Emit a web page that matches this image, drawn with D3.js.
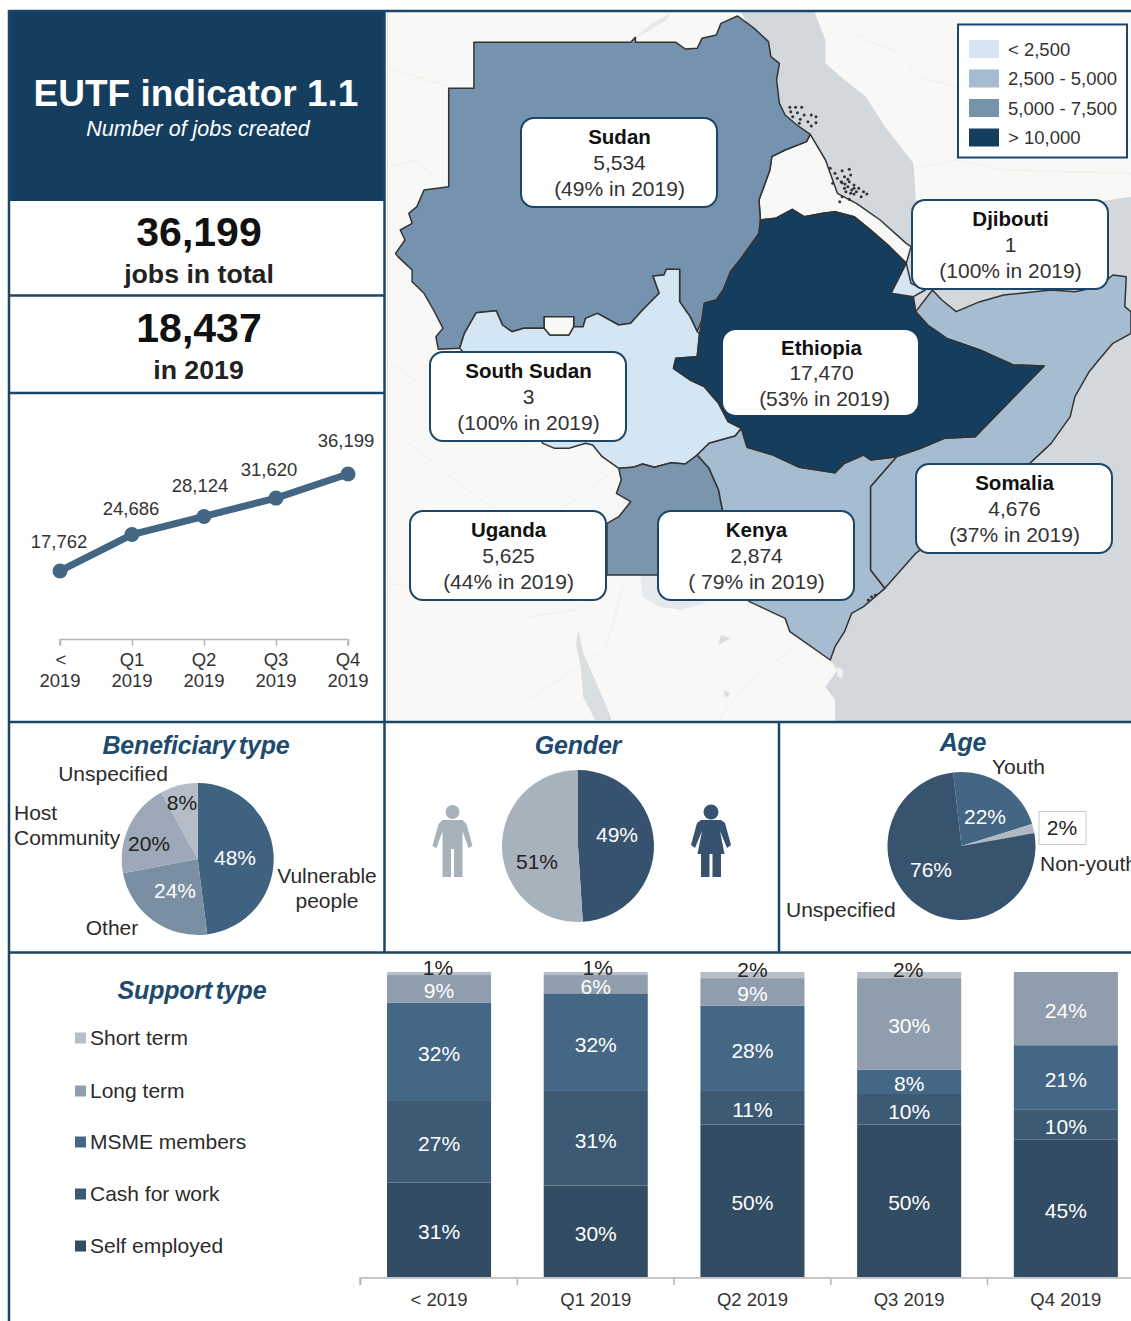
<!DOCTYPE html>
<html><head><meta charset="utf-8">
<script src="https://cdn.jsdelivr.net/npm/d3@7"></script>
<style>
html,body{margin:0;padding:0;background:#fff}
svg{display:block}
text{font-family:"Liberation Sans",Arial,sans-serif;fill:#2b2b2b}
</style></head><body><svg id="c" width="1131" height="1321"></svg>
<script>
// ---------- data ----------
const quarters = ["< 2019","Q1 2019","Q2 2019","Q3 2019","Q4 2019"];
const cumulativeJobs = [17762,24686,28124,31620,36199];
const beneficiaryLabels = ["Vulnerable people","Other","Host Community","Unspecified"];
const beneficiaryValues = [48,24,20,8];
const genderLabels = ["Female","Male"];
const genderValues = [49,51];
const ageLabels = ["Youth","Non-youth","Unspecified"];
const ageValues = [22,2,76];
const supportTypes = ["Self employed","Cash for work","MSME members","Long term","Short term"];
const selfEmployed = [31,30,50,50,45];
const cashForWork  = [27,31,11,10,10];
const msmeMembers  = [32,32,28,8,21];
const longTerm     = [9,6,9,30,24];
const shortTerm    = [1,1,2,2,0];
const legendBins = ["< 2,500","2,500 - 5,000","5,000 - 7,500","> 10,000"];
const countries = ["Sudan","Djibouti","South Sudan","Ethiopia","Uganda","Kenya","Somalia"];
const countryJobs = ["5,534","1","3","17,470","5,625","2,874","4,676"];
const countryShare = ["(49% in 2019)","(100% in 2019)","(100% in 2019)","(53% in 2019)","(44% in 2019)","( 79% in 2019)","(37% in 2019)"];

// traced outlines, in map-grid units
const seaOutline = [[745,30],[900,30],[925,120],[925,190],[965,240],[1010,290],[1050,380],[1110,490],[1115,600],[1300,605],[1450,615],[1568,590],[1568,2170],[945,2170],[945,2100],[925,2060],[950,2010],[935,1980],[900,1900],[1000,1700],[1115,1660],[1000,1000],[850,700],[800,400],[780,125]];
const sudanOutline = [[185,127],[515,127],[525,112],[525,127],[610,127],[630,147],[655,145],[665,115],[695,105],[705,70],[740,48],[775,85],[805,125],[810,170],[828,190],[822,240],[828,310],[840,345],[865,375],[893,403],[885,425],[840,450],[812,470],[808,510],[785,600],[788,660],[785,700],[745,780],[725,815],[710,870],[695,900],[670,910],[665,960],[655,995],[640,950],[618,905],[618,810],[590,808],[585,825],[562,828],[575,880],[540,930],[515,970],[490,975],[445,940],[420,955],[415,980],[395,980],[395,950],[333,950],[333,985],[290,985],[265,995],[245,975],[232,932],[190,938],[165,1000],[155,1045],[110,1048],[105,1010],[120,985],[100,930],[80,880],[55,845],[55,810],[25,770],[20,760],[40,720],[30,690],[55,670],[48,640],[65,620],[80,570],[132,560],[132,265],[185,265]];
const abyeiOutline = [[333,950],[395,950],[395,980],[385,1005],[345,1005],[333,985]];
const southSudanOutline = [[590,808],[618,808],[618,905],[640,950],[655,995],[660,1000],[655,1070],[610,1075],[605,1105],[640,1140],[670,1160],[700,1210],[720,1265],[748,1285],[735,1308],[680,1330],[655,1365],[630,1392],[600,1388],[565,1402],[540,1392],[520,1402],[490,1405],[455,1370],[435,1335],[420,1330],[385,1345],[355,1345],[330,1330],[310,1280],[155,1045],[165,1000],[190,938],[232,932],[245,975],[265,995],[290,985],[333,985],[345,1005],[385,1005],[395,980],[415,980],[420,955],[445,940],[490,975],[515,970],[540,930],[575,880],[562,828],[585,825]];
const eritreaOutline = [[893,403],[925,480],[950,580],[990,610],[1040,660],[1095,730],[1105,740],[1095,790],[1060,740],[1020,690],[985,650],[945,635],[920,640],[880,650],[855,628],[820,655],[788,660],[785,600],[808,510],[812,470],[840,450],[885,425]];
const ethiopiaOutline = [[788,660],[820,655],[855,628],[880,650],[920,640],[945,635],[985,650],[1020,690],[1060,740],[1095,790],[1063,880],[1110,890],[1115,935],[1140,975],[1180,1015],[1250,1050],[1320,1095],[1385,1098],[1240,1310],[1175,1315],[1125,1345],[1075,1370],[1020,1380],[1005,1365],[965,1390],[945,1418],[870,1402],[815,1365],[760,1342],[748,1285],[720,1265],[700,1210],[670,1160],[640,1140],[605,1105],[610,1075],[655,1070],[660,1000],[665,960],[670,910],[695,900],[710,870],[725,815],[745,780],[785,700]];
const djiboutiOutline = [[1095,790],[1105,850],[1135,870],[1110,890],[1063,880]];
const somaliaOutline = [[1115,935],[1150,870],[1170,900],[1200,935],[1250,905],[1300,885],[1400,870],[1450,875],[1500,860],[1530,825],[1558,830],[1555,920],[1568,935],[1568,1000],[1530,1030],[1500,1080],[1480,1115],[1450,1190],[1440,1250],[1400,1330],[1355,1390],[1115,1660],[1050,1765],[1020,1710],[1020,1460],[1075,1370],[1125,1345],[1175,1315],[1240,1310],[1385,1098],[1320,1095],[1250,1050],[1180,1015],[1140,975]];
const kenyaOutline = [[735,1308],[680,1330],[655,1365],[680,1405],[700,1470],[708,1530],[708,1720],[765,1805],[840,1855],[850,1895],[935,1980],[945,1940],[965,1895],[980,1840],[1005,1820],[1050,1765],[1020,1710],[1020,1460],[1075,1370],[1020,1380],[1005,1365],[965,1390],[945,1418],[870,1402],[815,1365],[760,1342],[748,1285]];
const ugandaOutline = [[655,1365],[630,1392],[600,1388],[565,1402],[540,1392],[520,1402],[490,1405],[495,1440],[485,1480],[515,1505],[490,1550],[465,1570],[465,1725],[570,1725],[708,1720],[708,1530],[700,1470],[680,1405]];
const lakeOutlines = [
  [[405,1890],[415,1960],[440,2040],[470,2140],[475,2160],[440,2160],[415,2090],[410,2000],[400,1930]],
  [[705,1905],[725,1915],[700,1935]],
  [[710,2070],[725,2080],[715,2095]]
];
const paleLakeOutlines = [
  [[535,1725],[700,1720],[670,1810],[620,1830],[575,1820],[540,1790]],
  [[520,1515],[470,1575],[490,1550]],
  [[525,112],[560,70],[600,40],[590,60],[545,100]]
];
const coastIslandOutlines = [[[950,2000],[962,2010],[960,2035],[950,2030]]];
const faintLines = [
  [[0,200],[132,260]],[[130,560],[60,480],[10,500]],[[10,1090],[100,1180],[300,1340]],[[20,1300],[200,1500],[300,1600],[490,1400]],
  [[0,1750],[250,1790],[465,1700]],[[900,1900],[760,2050],[700,2160]],[[980,100],[1080,160],[1120,230],[1300,300],[1568,420]],
  [[1000,540],[1200,480],[1300,510],[1568,520]],[[300,1850],[400,1830],[470,1730]],[[500,1760],[460,1950],[300,2100]]
];
const islandPoints = [[850,322],[862,322],[875,322],[852,335],[866,338],[880,345],[895,345],[905,350],[856,350],[872,358],[888,365],[905,368],[895,378],[870,370],[935,505],[945,520],[960,512],[975,508],[950,535],[965,530],[972,538],[978,525],[958,545],[966,552],[940,550],[960,548],[975,545],[985,555],[965,565],[972,560],[980,570],[995,565],[1005,575],[985,582],[1012,582],[960,590],[955,605],[975,598],[1000,590],[990,575],[978,580],[968,575],[985,565],[1015,1800],[1022,1790],[1030,1785]];

// ---------- layout ----------
const svg = d3.select("#c");
const NAVY="#153d5e", LINE="#1b4668", TITLE="#1d4a6d";
const txt=(g,x,y,s,o={})=>g.append("text").attr("x",x).attr("y",y).attr("dy","0.35em")
  .attr("text-anchor",o.a||"middle").attr("font-size",o.fs||21).attr("font-weight",o.b?"bold":null)
  .attr("font-style",o.i?"italic":null).style("fill",o.c||"#2b2b2b").attr("letter-spacing",o.ls||null).text(s);

// map
const mapX = d3.scaleLinear().domain([0,1568]).range([386,1131]);
const mapY = d3.scaleLinear().domain([0,2160]).range([0,720]);
const defs = svg.append("defs");
defs.append("clipPath").attr("id","mapClip").append("rect").attr("x",387).attr("y",12).attr("width",744).attr("height",709);
const mapG = svg.append("g").attr("clip-path","url(#mapClip)");
mapG.append("rect").attr("x",387).attr("y",12).attr("width",744).attr("height",709).attr("fill","#f8f8f6");
const line = d3.line().x(d=>mapX(d[0])).y(d=>mapY(d[1]));
const poly = pts => line(pts)+"Z";
mapG.selectAll(".faint").data(faintLines).join("path").attr("d",line).attr("fill","none").attr("stroke","#efefed").attr("stroke-width",1);
mapG.append("path").attr("d",poly(seaOutline)).attr("fill","#d3d8dc");
mapG.selectAll(".lake").data(lakeOutlines).join("path").attr("d",poly).attr("fill","#d9dee1");
mapG.selectAll(".plake").data(paleLakeOutlines).join("path").attr("d",poly).attr("fill","#e6e9eb");
mapG.selectAll(".cisl").data(coastIslandOutlines).join("path").attr("d",poly).attr("fill","#f3f3f1");
const shapes = [[eritreaOutline,"#f8f8f6"],[sudanOutline,"#7593ae"],[southSudanOutline,"#d4e5f4"],[abyeiOutline,"#f8f8f6"],
  [ugandaOutline,"#7b95ad"],[kenyaOutline,"#a5bcd1"],[somaliaOutline,"#a5bcd1"],[ethiopiaOutline,NAVY],[djiboutiOutline,"#d4e5f4"]];
mapG.selectAll(".ctry").data(shapes).join("path").attr("d",d=>poly(d[0])).attr("fill",d=>d[1])
  .attr("stroke","#333").attr("stroke-width",1.5).attr("stroke-linejoin","round");
mapG.selectAll(".isl").data(islandPoints).join("circle").attr("cx",d=>mapX(d[0])).attr("cy",d=>mapY(d[1])).attr("r",1.5).attr("fill","#333");
svg.append("line").attr("x1",387.5).attr("x2",387.5).attr("y1",12).attr("y2",721).attr("stroke","#dcdcdc");

// callouts
const calloutBoxes = [[521,118],[912,200],[430,352],[723,330],[410,511],[658,511],[916,464]];
const calloutG = svg.append("g");
countries.forEach((c,i)=>{
  const [x,y]=calloutBoxes[i], eth=c==="Ethiopia";
  calloutG.append("rect").attr("x",x).attr("y",y).attr("width",eth?195:196).attr("height",eth?85:89).attr("rx",13)
    .attr("fill","#fff").attr("stroke",eth?"none":"#1b4668").attr("stroke-width",2);
  const cx=x+98.5;
  txt(calloutG,cx,y+(eth?18:19),c,{b:true,c:"#111",fs:20.5});
  txt(calloutG,cx,y+(eth?43:44.5),countryJobs[i],{c:"#333"});
  txt(calloutG,cx+(eth?3:0),y+(eth?69:70.5),countryShare[i],{c:"#333"});
});

// map legend
const legColors=["#d5e5f4","#a5bbd0","#7493ad",NAVY];
const legG=svg.append("g");
legG.append("rect").attr("x",958).attr("y",24.5).attr("width",169).attr("height",133).attr("fill","#fff").attr("stroke",LINE).attr("stroke-width",2);
const legY=d3.scalePoint().domain(legendBins).range([49,137.5]);
legendBins.forEach((b,i)=>{
  legG.append("rect").attr("x",969).attr("y",legY(b)-9).attr("width",30).attr("height",18).attr("fill",legColors[i]);
  txt(legG,1008,legY(b)+0.5,b,{a:"start",fs:18.5,c:"#333"});
});

// header
svg.append("rect").attr("x",9).attr("y",10).attr("width",376).attr("height",191).attr("fill",NAVY);
txt(svg,196,93,"EUTF indicator 1.1",{b:true,fs:37,c:"#fff"});
txt(svg,198,128,"Number of jobs created",{i:true,fs:21.5,c:"#fff"});
txt(svg,199,232,"36,199",{b:true,fs:41,c:"#111"});
txt(svg,199,274,"jobs in total",{b:true,fs:26.7,c:"#222"});
txt(svg,199,328,"18,437",{b:true,fs:41,c:"#111"});
txt(svg,198.5,370,"in 2019",{b:true,fs:26.7,c:"#222"});

// line chart
const lx=d3.scalePoint().domain(quarters).range([60,348]);
const ly=d3.scaleLinear().domain([0,40000]).range([664.4,454]);
const lg=svg.append("g");
const lAxis=lg.append("g").attr("transform","translate(0,639.5)").call(d3.axisBottom(lx).tickSize(6).tickSizeOuter(0).tickFormat(""));
lAxis.selectAll("path,line").attr("stroke","#b5b5b5").attr("stroke-width",1.5);
lAxis.select("path").attr("d","M60,6V0H348V6");
quarters.forEach(q=>{const p=q.split(" ");
  txt(lg,lx(q)+(p[0]==="<"?1:0),659.5,p[0],{fs:18.5,c:"#333"});
  txt(lg,lx(q),681,p[1],{fs:18.5,c:"#333"});});
lg.append("path").datum(cumulativeJobs).attr("fill","none").attr("stroke","#436685").attr("stroke-width",7)
  .attr("d",d3.line().x((d,i)=>lx(quarters[i])).y(d=>ly(d)));
lg.selectAll("circle").data(cumulativeJobs).join("circle").attr("cx",(d,i)=>lx(quarters[i])).attr("cy",d=>ly(d)).attr("r",7.5).attr("fill","#436685");
const lLabelX=[59,131,200,269,346], lLabelY=[542,509,485.5,470,441];
cumulativeJobs.forEach((v,i)=>txt(lg,lLabelX[i],lLabelY[i],d3.format(",")(v),{fs:18.5,c:"#333"}));

// pies
function pie(cx,cy,r,values,colors,start=0){
  const g=svg.append("g").attr("transform",`translate(${cx},${cy})`);
  const p=d3.pie().sort(null).startAngle(start).endAngle(start+2*Math.PI)(values);
  g.selectAll("path").data(p).join("path").attr("d",d3.arc().innerRadius(0).outerRadius(r)).attr("fill",(d,i)=>colors[i]);
}
pie(197.7,859,76,beneficiaryValues,["#3f6280","#7a8fa3","#9da9b8","#b3bcc7"]);
pie(578,846,76,genderValues,["#37526e","#a7b2bd"]);
pie(961.5,846,74,ageValues,["#436684","#b0b8c2","#38536e"],-6.5*Math.PI/180);

const pct=v=>v+"%";
txt(svg,235,858,pct(beneficiaryValues[0]),{c:"#fff"});
txt(svg,175,891,pct(beneficiaryValues[1]),{c:"#fff"});
txt(svg,149,844,pct(beneficiaryValues[2]),{c:"#222"});
txt(svg,182,803,pct(beneficiaryValues[3]),{c:"#222"});
txt(svg,617,835,pct(genderValues[0]),{c:"#fff"});
txt(svg,537,862,pct(genderValues[1]),{c:"#222"});
txt(svg,985,817,pct(ageValues[0]),{c:"#fff"});
svg.append("rect").attr("x",1039).attr("y",811.5).attr("width",47).attr("height",33).attr("fill","#fff").attr("stroke","#c8c8c8");
txt(svg,1062,828,pct(ageValues[1]),{c:"#222"});
txt(svg,931,870,pct(ageValues[2]),{c:"#fff"});

txt(svg,113,774,"Unspecified");
txt(svg,14,813,"Host",{a:"start"});
txt(svg,14,838,"Community",{a:"start"});
txt(svg,327,876,"Vulnerable");
txt(svg,327,901,"people");
txt(svg,112,928,"Other");
txt(svg,992,767,"Youth",{a:"start"});
txt(svg,1040,864,"Non-youth",{a:"start"});
txt(svg,786,910,"Unspecified",{a:"start"});

// titles
const ttl=(x,y,s)=>txt(svg,x,y,s,{b:true,i:true,fs:25,c:TITLE,ls:"-0.2"}).attr("word-spacing","-3");
ttl(196,745,"Beneficiary type");
ttl(578,745,"Gender");
ttl(963,742,"Age");
ttl(192,990,"Support type");

// person icons
const man="M-10,-21H10L14,-17L20,5L16,7L10,-10V36H1.5V8H-1.5V36H-10V-10L-16,7L-20,5L-14,-17Z";
const woman="M-10,-21H10L14,-18L20,4L16,7L9,-10L13.5,13H10V36H1.5V13H-1.5V36H-10V13H-13.5L-9,-10L-16,7L-20,4L-14,-18Z";
const mg=svg.append("g").attr("transform","translate(452.5,841)").attr("fill","#a7b2bd");
mg.append("circle").attr("cy",-29).attr("r",7); mg.append("path").attr("d",man);
const wg=svg.append("g").attr("transform","translate(711,841)").attr("fill","#37526e");
wg.append("circle").attr("cy",-29).attr("r",7.5); wg.append("path").attr("d",woman);

// stacked bars
const bx=d3.scaleBand().domain(quarters).range([360.7,1144.2]).paddingInner(0.336).paddingOuter(0.168);
const by=d3.scaleLinear().domain([0,100]).range([1277,972]);
const rows=quarters.map((q,i)=>({q,"Self employed":selfEmployed[i],"Cash for work":cashForWork[i],"MSME members":msmeMembers[i],"Long term":longTerm[i],"Short term":shortTerm[i]}));
const stack=d3.stack().keys(supportTypes)(rows);
const barColors=["#324c63","#3c5a74","#446785","#8f9dad","#b7bec8"];
const topLabelShift=[0,3,1,0,0];
const barG=svg.append("g");
stack.forEach((s,k)=>{
  barG.selectAll(null).data(s).join("rect").attr("x",d=>bx(d.data.q)).attr("width",bx.bandwidth())
    .attr("y",d=>by(d[1])).attr("height",d=>by(d[0])-by(d[1])).attr("fill",barColors[k]);
  s.forEach((d,qi)=>{
    const v=d[1]-d[0]; if(!v) return;
    const top=k===4;
    txt(barG,bx(d.data.q)+bx.bandwidth()/2+(top?topLabelShift[qi]-1:0),(by(d[0])+by(d[1]))/2+(top?-5.5:2),pct(v),{c:top?"#222":"#fff"});
  });
});
const bAxis=svg.append("g").attr("transform","translate(0,1278)");
bAxis.append("path").attr("fill","none").attr("stroke","#b5b5b5").attr("stroke-width",1.5).attr("d",
  "M360,7V0H1131"+quarters.map((q,i)=>`M${bx.range()[0]+i*bx.step()},0v7`).join(""));
quarters.forEach(q=>txt(bAxis,bx(q)+bx.bandwidth()/2,22,q,{fs:18.5,c:"#333"}));

// support legend
const sy=[1246,1194,1142,1091,1038];
const sCol=["#324c63","#3c5a74","#446785","#8f9dad","#b7bec8"];
supportTypes.forEach((t,i)=>{
  svg.append("rect").attr("x",75).attr("y",sy[i]-5.5).attr("width",11).attr("height",11).attr("fill",sCol[i]);
  txt(svg,90,sy[i],t,{a:"start"});
});

// panel rules
const rules=[[9,10,9,1321],[9,11,1131,11],[384.5,10,384.5,952],[9,295.5,384.5,295.5],[9,393,384.5,393],[9,722,1131,722],[9,952.5,1131,952.5],[779,722,779,952]];
svg.selectAll(".rule").data(rules).join("line").attr("x1",d=>d[0]).attr("y1",d=>d[1]).attr("x2",d=>d[2]).attr("y2",d=>d[3])
  .attr("stroke",LINE).attr("stroke-width",2.5);
</script></body></html>
